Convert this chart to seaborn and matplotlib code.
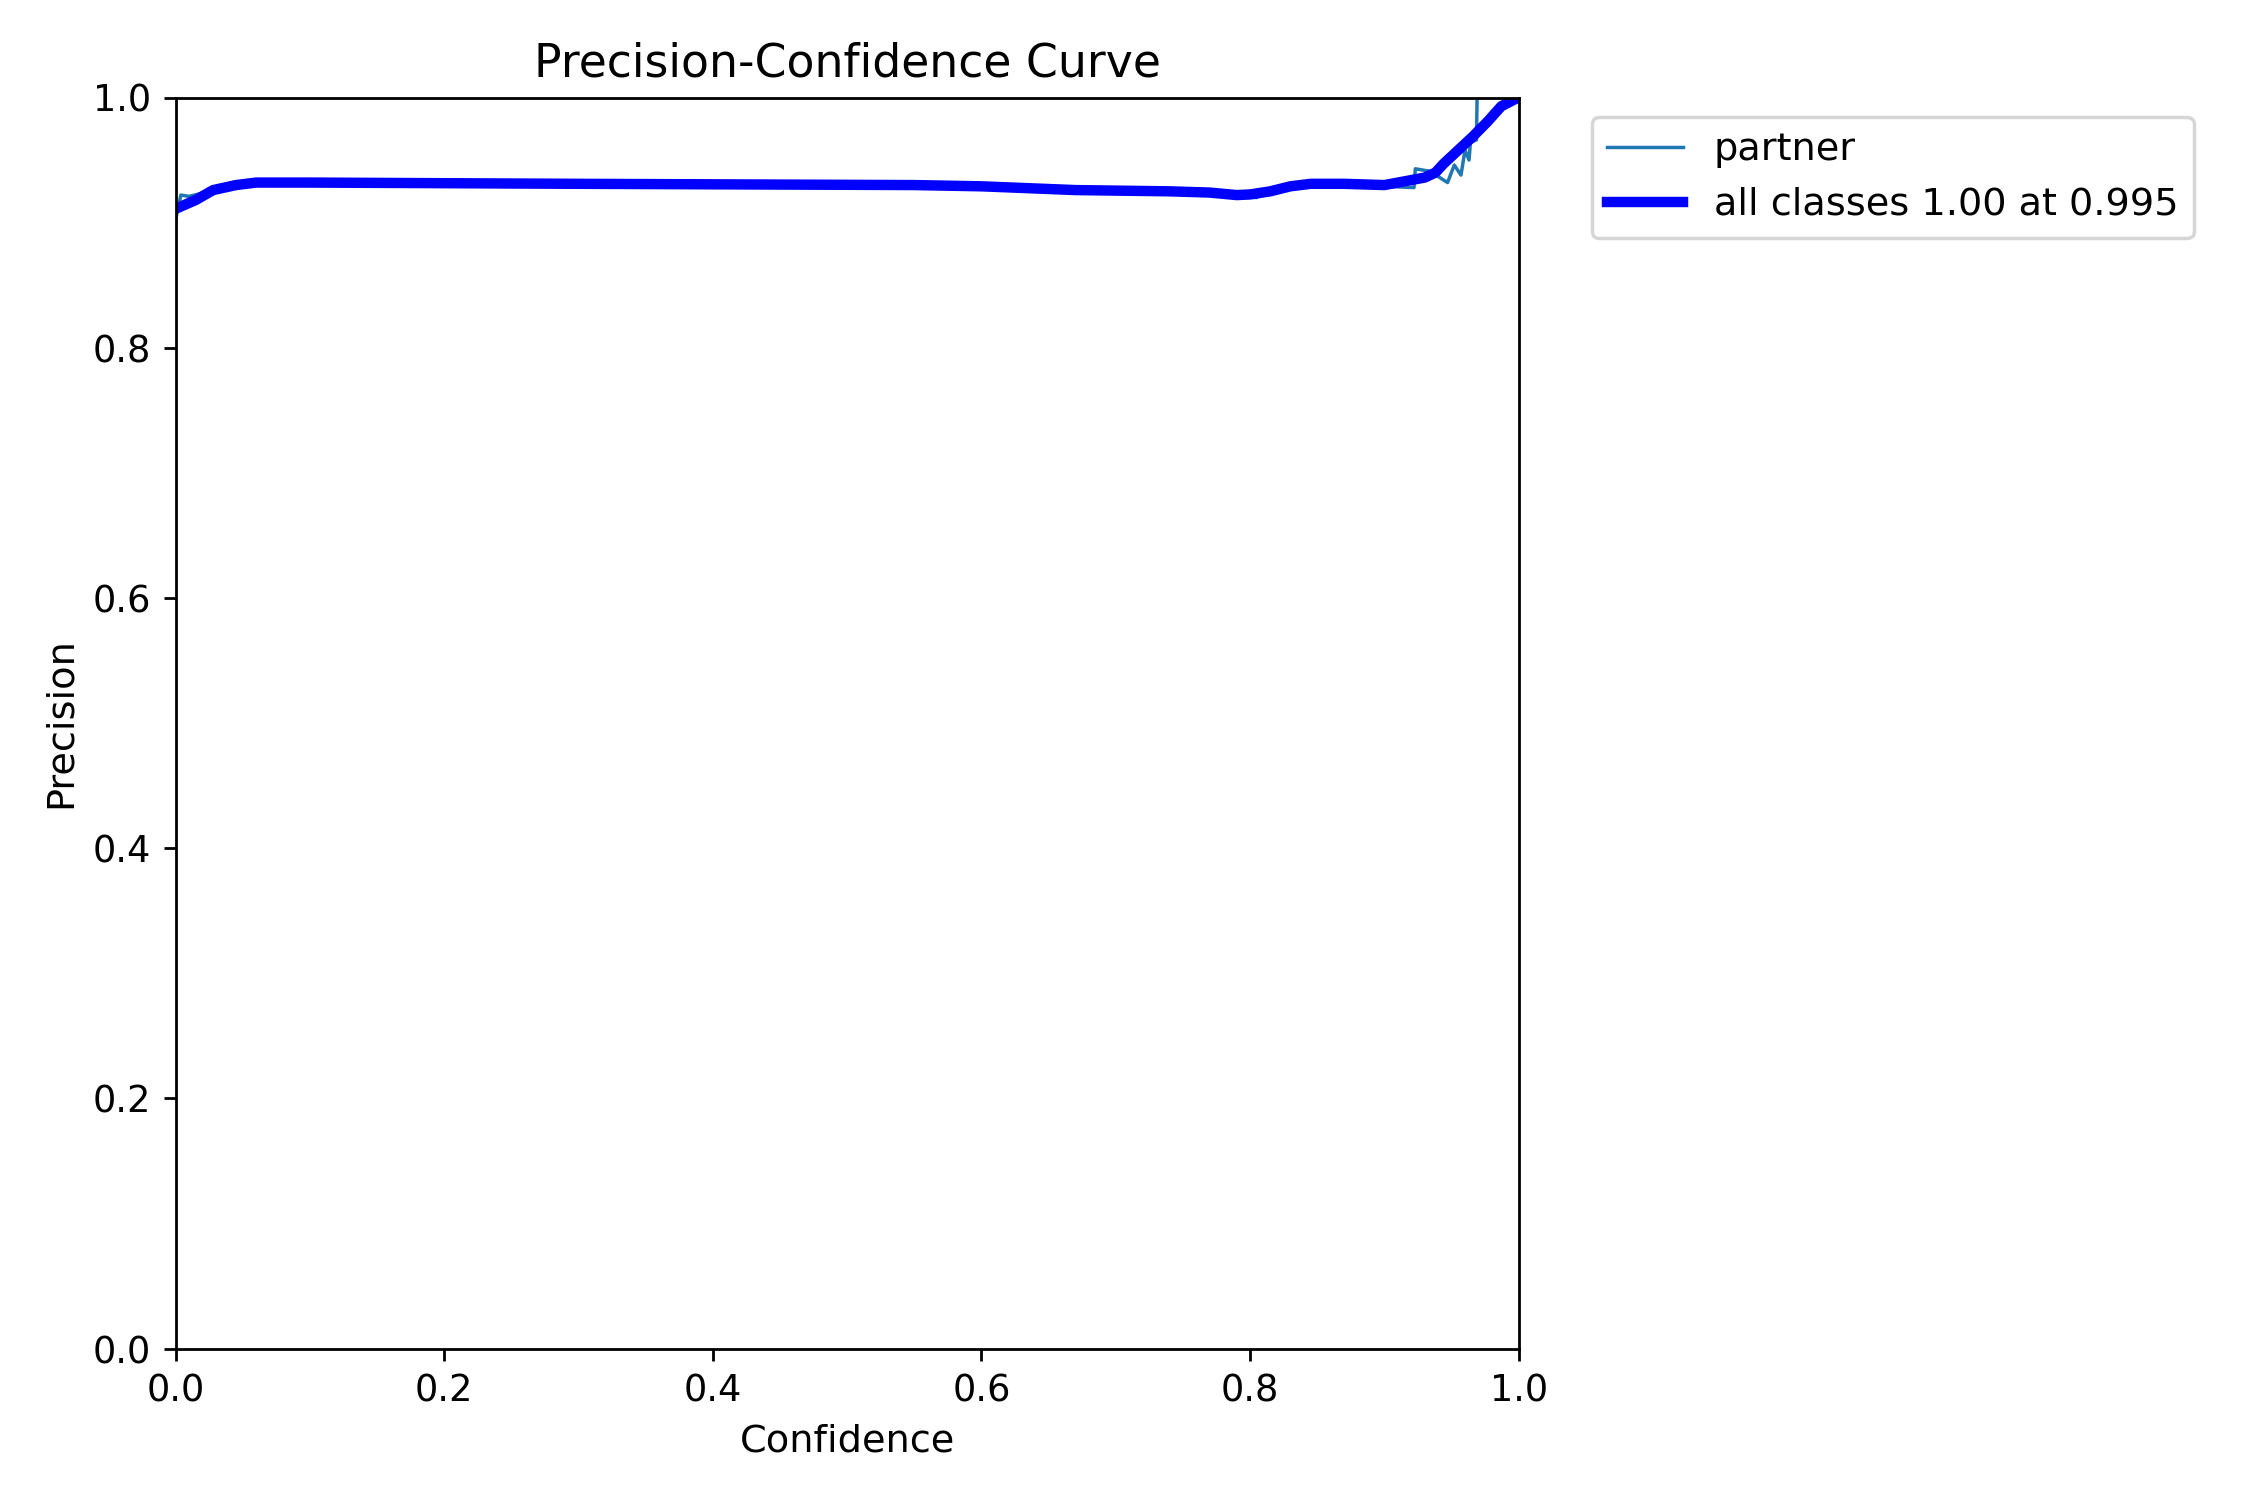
import matplotlib
matplotlib.use("Agg")
import matplotlib.pyplot as plt
import seaborn as sns

# per-class precision (raw)
class_name = "partner"
conf_cls = [0.0, 0.004, 0.010, 0.030, 0.060, 0.200, 0.400, 0.550, 0.600, 0.670, 0.740,
            0.790, 0.805, 0.810, 0.830, 0.850, 0.900, 0.922, 0.923, 0.934, 0.947,
            0.952, 0.957, 0.960, 0.963, 0.964, 0.968, 0.9685, 0.969, 1.0]
prec_cls = [0.902, 0.922, 0.921, 0.926, 0.931, 0.931, 0.930, 0.930, 0.929, 0.926, 0.925,
            0.921, 0.920, 0.924, 0.929, 0.931, 0.929, 0.928, 0.943, 0.941, 0.932,
            0.946, 0.938, 0.958, 0.950, 0.964, 0.966, 0.966, 1.0, 1.0]

# all classes (smoothed)
conf_all = [0.0, 0.015, 0.028, 0.045, 0.060, 0.100, 0.300, 0.550, 0.600, 0.670, 0.740,
            0.770, 0.790, 0.800, 0.815, 0.830, 0.845, 0.870, 0.900, 0.915, 0.930,
            0.938, 0.944, 0.955, 0.966, 0.977, 0.987, 0.996, 1.0]
prec_all = [0.911, 0.918, 0.926, 0.930, 0.932, 0.932, 0.931, 0.930, 0.929, 0.926, 0.925,
            0.924, 0.922, 0.9225, 0.925, 0.929, 0.931, 0.931, 0.930, 0.933, 0.936,
            0.940, 0.947, 0.958, 0.969, 0.981, 0.993, 0.998, 1.0]
best_prec = 1.00
best_conf = 0.995

plt.rcParams['font.size'] = 10.6
plt.rcParams['legend.fontsize'] = 11
plt.rcParams['axes.labelsize'] = 11
plt.rcParams['axes.titlesize'] = 13.2

fig, ax = plt.subplots(1, 1, figsize=(9, 6))
fig.subplots_adjust(left=0.078, right=0.675, top=0.935, bottom=0.101)
sns.lineplot(x=conf_cls, y=prec_cls, ax=ax, linewidth=1, color="#1f77b4",
             estimator=None, sort=False, label=class_name)
sns.lineplot(x=conf_all, y=prec_all, ax=ax, linewidth=3, color="blue",
             estimator=None, sort=False, label=f"all classes {best_prec:.2f} at {best_conf:.3f}")
ax.set_xlabel("Confidence")
ax.set_ylabel("Precision")
ax.set_xlim(0, 1)
ax.set_ylim(0, 1)
ax.legend(bbox_to_anchor=(1.04, 1), loc="upper left")
ax.set_title("Precision-Confidence Curve")
fig.savefig("out.png", dpi=250)
